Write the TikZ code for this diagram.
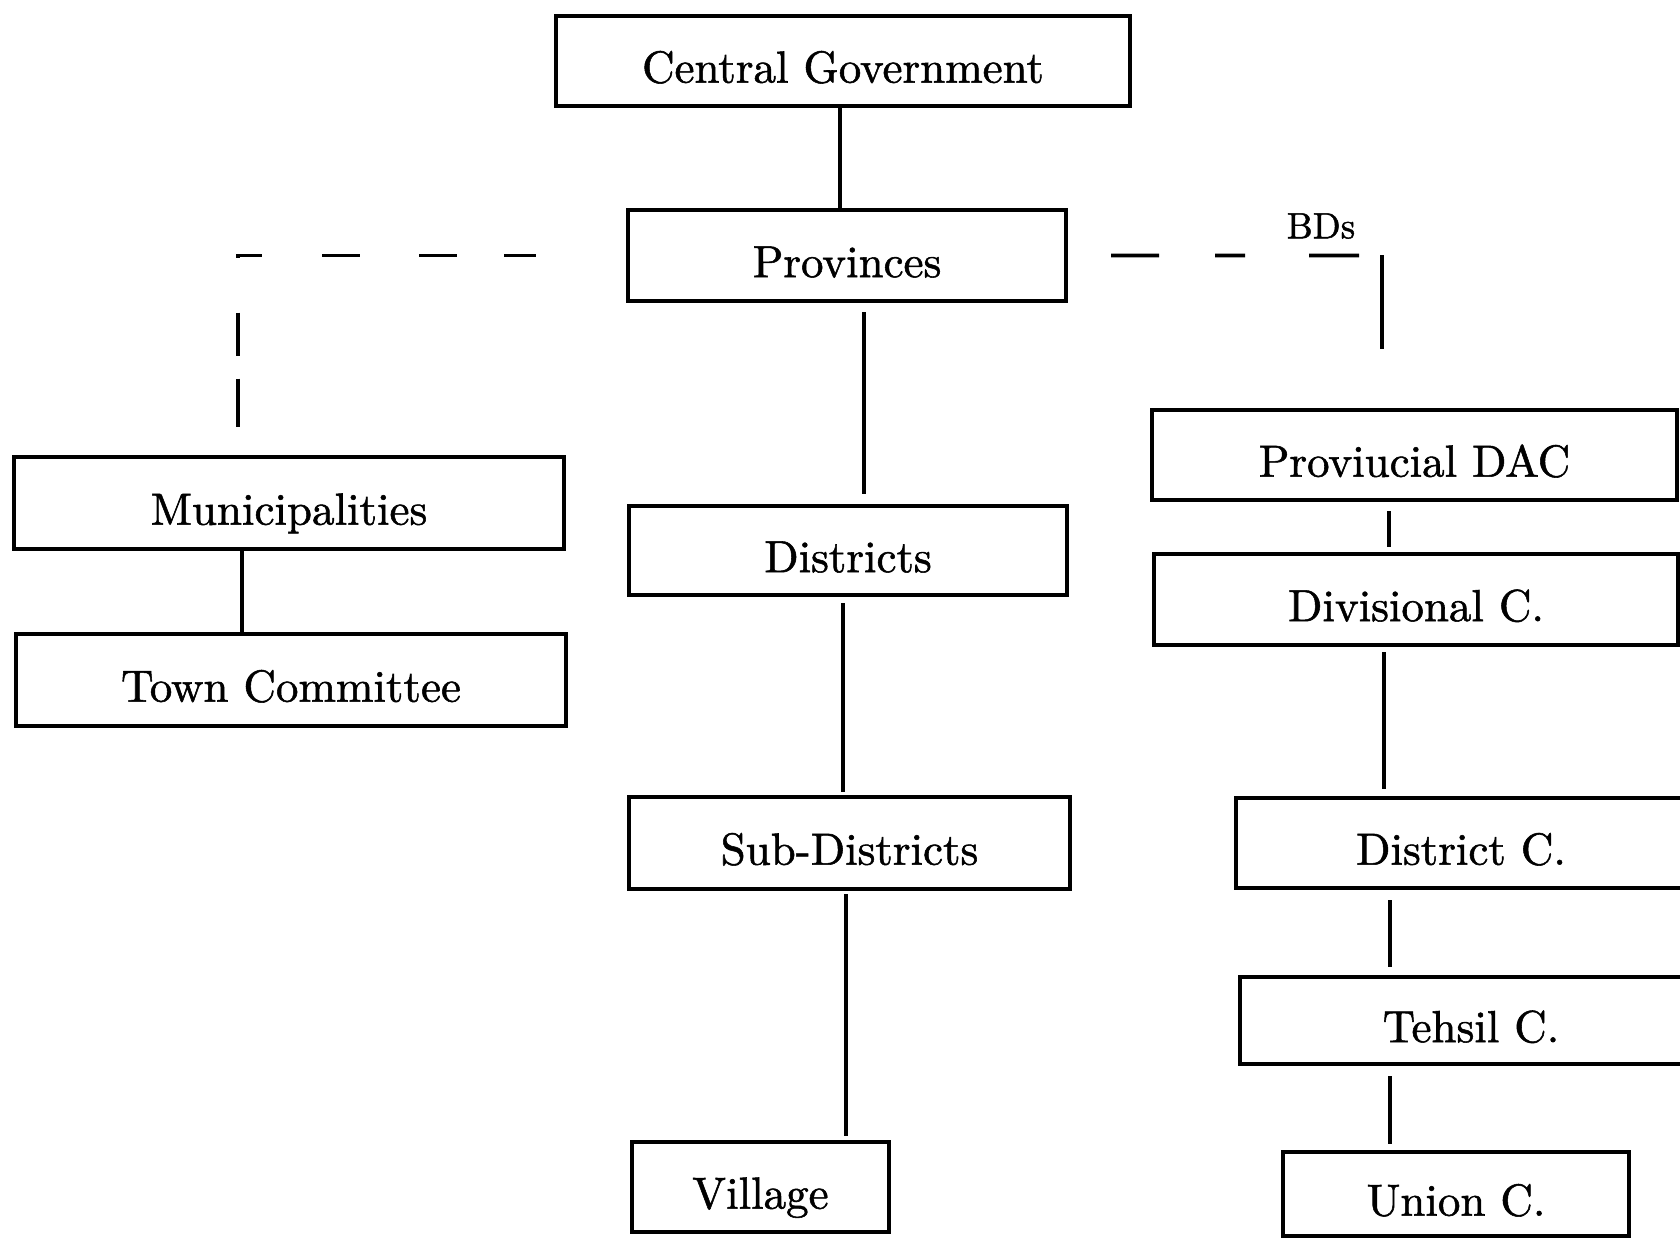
\documentclass[tikz,border=0pt]{standalone}
\usepackage{fontspec}
\newfontfamily\heavy{lmroman10-regular.otf}[FakeBold=1.2]
\usetikzlibrary{fit}
\begin{document}
\begin{tikzpicture}[x=0.3pt,y=-0.3pt,
  box/.style={draw, line width=1.3pt, inner sep=0pt},
  every label/.style={font=\heavy\fontsize{13.5}{16}\selectfont, inner sep=0pt,
    text height=9.2pt, text depth=0pt, yshift=-1.9pt},
  link/.style={line width=1pt},
  dlink/.style={line width=1.1pt}
]
\useasboundingbox (0,0) rectangle (1680,1238);
% centre column
\node[box, fit={(556,16)(1130,106)}, label=center:{Central Government}] (cg) {};
\node[box, fit={(628,210)(1066,301)}, label=center:{Provinces}] (prov) {};
\node[box, fit={(629,506)(1067,595)}, label=center:{Districts}] (dist) {};
\node[box, fit={(629,797)(1070,889)}, label=center:{Sub-Districts}] (sub) {};
\node[box, fit={(632,1142)(889,1232)}, label=center:{Village}] (vill) {};
% left column
\node[box, fit={(14,457)(564,549)}, label=center:{Municipalities}] (muni) {};
\node[box, fit={(16,634)(566,726)}, label=center:{Town Committee}] (town) {};
% right column
\node[box, fit={(1152,410)(1677,500)}, label=center:{Proviucial DAC}] (pdac) {};
\node[box, fit={(1154,554)(1678,645)}, label=center:{Divisional C.}] (div) {};
\node[box, fit={(1236,798)(1686,888)}, label=center:{District C.}] (distc) {};
\node[box, fit={(1240,977)(1702,1064)}, label=center:{Tehsil C.}] (teh) {};
\node[box, fit={(1283,1152)(1629,1236)}, label=center:{Union C.}] (union) {};
% label
\node[font=\heavy\fontsize{11}{13}\selectfont, inner sep=0pt] (bds) at (1321,226) {BDs};
% solid links
\draw[link] (cg.south -| 840,0) -- (prov.north -| 840,0);
\draw[link, shorten <=2.7pt, shorten >=3pt] (prov.south -| 864,0) -- (dist.north -| 864,0);
\draw[link, shorten <=1.8pt, shorten >=0.9pt] (dist.south -| 843,0) -- (sub.north -| 843,0);
\draw[link, shorten <=0.9pt, shorten >=1.2pt] (sub.south -| 846,0) -- (vill.north -| 846,0);
\draw[link] (muni.south -| 242,0) -- (town.north -| 242,0);
\draw[link, shorten <=2.7pt, shorten >=1.5pt] (pdac.south -| 1389,0) -- (div.north -| 1389,0);
\draw[link, shorten <=1.5pt, shorten >=2.1pt] (div.south -| 1384,0) -- (distc.north -| 1384,0);
\draw[link, shorten <=3pt, shorten >=2.4pt] (distc.south -| 1390,0) -- (teh.north -| 1390,0);
\draw[link, shorten <=3pt, shorten >=1.8pt] (teh.south -| 1390,0) -- (union.north -| 1390,0);
% dashed links
\draw[dlink, dash pattern=on 0pt off 27pt on 9.6pt off 14.1pt on 11.4pt off 17.7pt on 11.4pt off 18pt on 7.8pt off 16.5pt on 12.9pt off 6.9pt on 14.4pt off 30pt]
  (prov.west) -- (prov.west -| 238,0) -- (muni.north -| 238,0);
\coordinate (rEnd) at (1359,255.5);
\draw[dlink, dash pattern=on 0pt off 12.9pt on 14.4pt off 16.8pt on 9pt off 19.2pt on 15.6pt off 20pt]
  (prov.east) -- (rEnd);
\coordinate (rTop) at (1382,255);
\coordinate (rBot) at (1382,349);
\draw[link] (rTop) -- (rBot);
\end{tikzpicture}
\end{document}
